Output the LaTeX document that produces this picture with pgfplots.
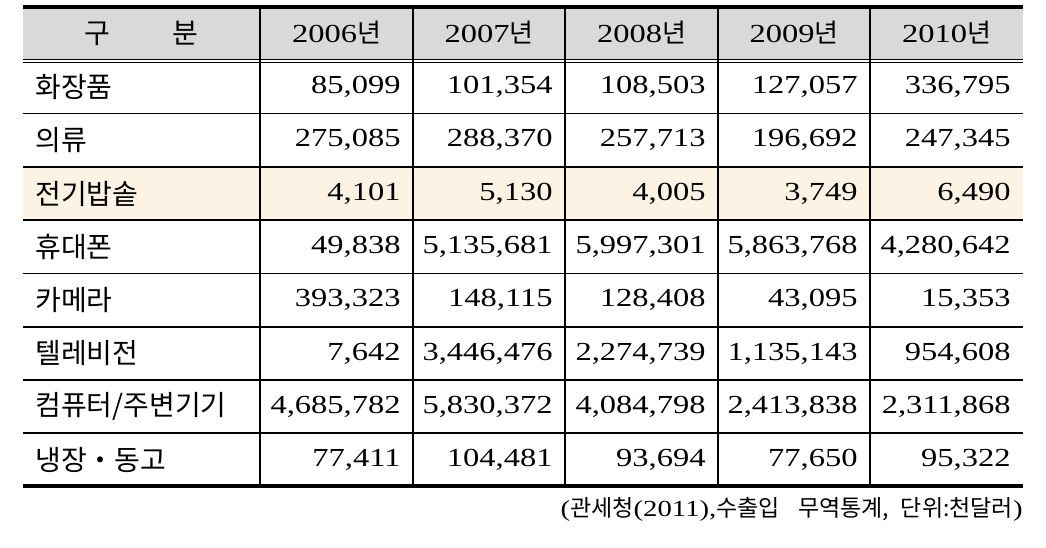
\documentclass[border=0pt]{standalone}
\usepackage{fontspec}
\setmainfont{Liberation Serif}[FakeStretch=1.25]
\newfontfamily\kr{Noto Sans CJK KR}
\usepackage{pgfplots}
\pgfplotsset{compat=1.18}
\usepackage{pgfplotstable}

\definecolor{headgray}{HTML}{D9D9D9}
\definecolor{rowbeige}{HTML}{FDF3E4}

% export values, thousand dollars
\pgfplotstableread{
row name y2006 y2007 y2008 y2009 y2010
0 화장품 85,099 101,354 108,503 127,057 336,795
1 의류 275,085 288,370 257,713 196,692 247,345
2 전기밥솥 4,101 5,130 4,005 3,749 6,490
3 휴대폰 49,838 5,135,681 5,997,301 5,863,768 4,280,642
4 카메라 393,323 148,115 128,408 43,095 15,353
5 텔레비전 7,642 3,446,476 2,274,739 1,135,143 954,608
6 컴퓨터/주변기기 4,685,782 5,830,372 4,084,798 2,413,838 2,311,868
7 냉장・동고 77,411 104,481 93,694 77,650 95,322
}\datatable

\pgfplotstableread{
x year
336.5 2006
489 2007
641.5 2008
794 2009
946.5 2010
}\headtable

\pgfplotsset{
  cell/.style={draw=none, mark=none, point meta=explicit symbolic,
    nodes near coords={\pgfplotspointmeta},
    nodes near coords style={anchor=#1, inner sep=0pt, font=\fontsize{13}{15}\selectfont}},
}

\begin{document}
\begin{tikzpicture}
\begin{axis}[
  scale only axis, width=523pt, height=273.5pt,
  xmin=0, xmax=1046, ymin=0, ymax=547, y dir=reverse,
  hide axis, clip=false,
  unbounded coords=jump,
]
\addplot[draw=none] coordinates {(0,0) (1046,547)};
% header and highlighted row
\addplot[fill=headgray, draw=none] coordinates {(23,8) (1023,8) (1023,59) (23,59)} -- cycle;
\addplot[fill=rowbeige, draw=none] coordinates {(23,167) (1023,167) (1023,220) (23,220)} -- cycle;
% rules
\addplot[black, line width=0.55pt] table[empty line=jump] {
x y
23 113.5
1023 113.5

23 167
1023 167

23 220
1023 220

23 273.5
1023 273.5

23 327
1023 327

23 380
1023 380

23 433
1023 433

23 59.3
1023 59.3

23 62.7
1023 62.7

260 7
260 486

413 7
413 486

565 7
565 486

718 7
718 486

870 7
870 486
};
\addplot[black, line width=1.6pt] table[empty line=jump] {
x y
23 7
1023 7

23 486
1023 486
};
% header text
\addplot[cell=center, nodes near coords={\pgfplotspointmeta{\kr 년}}]
  table[x=x, y expr=33, meta=year] {\headtable};
\addplot[draw=none, mark=none,
  nodes near coords={구\hspace{2.2em}분},
  nodes near coords style={anchor=center, inner sep=0pt, font=\kr\fontsize{14}{16}\selectfont}]
  coordinates {(141.5,33)};
% row names
\addplot[cell=west, nodes near coords style={font=\kr\fontsize{14}{16}\selectfont}]
  table[x expr=35, y expr=87+53.3*\thisrow{row}, meta=name] {\datatable};
% values
\addplot[cell=east] table[x expr=401, y expr=87+53.3*\thisrow{row}, meta=y2006] {\datatable};
\addplot[cell=east] table[x expr=553, y expr=87+53.3*\thisrow{row}, meta=y2007] {\datatable};
\addplot[cell=east] table[x expr=706, y expr=87+53.3*\thisrow{row}, meta=y2008] {\datatable};
\addplot[cell=east] table[x expr=858, y expr=87+53.3*\thisrow{row}, meta=y2009] {\datatable};
\addplot[cell=east] table[x expr=1011, y expr=87+53.3*\thisrow{row}, meta=y2010] {\datatable};
% source note
\addplot[draw=none, mark=none,
  nodes near coords={({\kr 관세청}(2011),{\kr 수출입\hspace{0.8em}무역통계,\hspace{0.5em}단위:천달러})},
  nodes near coords style={anchor=east, inner sep=0pt, font=\fontsize{11.5}{13}\selectfont}]
  coordinates {(1023,509)};
\end{axis}
\end{tikzpicture}
\end{document}
